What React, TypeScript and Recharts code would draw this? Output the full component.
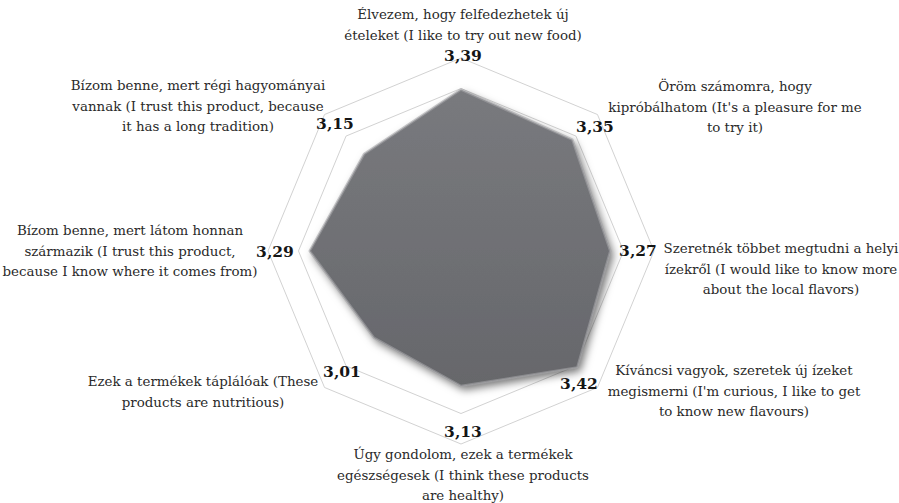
import React from "react";
import {
  PolarAngleAxis,
  PolarGrid,
  PolarRadiusAxis,
  Radar,
  RadarChart,
} from "recharts";

// statements, clockwise from the top
const categories: string[][] = [
  ["Élvezem, hogy felfedezhetek új", "ételeket  (I like to try out new food)"],
  ["Öröm számomra, hogy", "kipróbálhatom  (It's a pleasure for me", "to try it)"],
  ["Szeretnék többet megtudni a helyi", "ízekről (I would like to know more", "about the local flavors)"],
  ["Kíváncsi vagyok, szeretek új ízeket", "megismerni (I'm curious, I like to get", "to know new flavours)"],
  ["Úgy gondolom, ezek a termékek", "egészségesek (I think these products", "are healthy)"],
  ["Ezek a termékek táplálóak (These", "products are nutritious)"],
  ["Bízom benne, mert látom honnan", "származik (I trust this product,", "because I know where it comes from)"],
  ["Bízom benne, mert régi hagyományai", "vannak (I trust this product, because", "it has a long tradition)"],
];
const means = [3.39, 3.35, 3.27, 3.42, 3.13, 3.01, 3.29, 3.15];
const radiusDomain: [number, number] = [1.8, 3.7];
const gridRings = [3.4, 3.7];

const W = 899;
const H = 503;
const CX = 461;
const CY = 251;
const OUTER = 193;

// where each statement block and its value sit (first-line baseline)
const labelPos = [
  { x: 463, y: 19 },
  { x: 735, y: 91 },
  { x: 781, y: 253 },
  { x: 734, y: 375 },
  { x: 463, y: 459 },
  { x: 203, y: 386 },
  { x: 130, y: 235 },
  { x: 198, y: 90 },
];
const valuePos = [
  { x: 463, y: 61 },
  { x: 595, y: 132 },
  { x: 638, y: 256 },
  { x: 579, y: 389 },
  { x: 463, y: 437 },
  { x: 342, y: 377 },
  { x: 275, y: 257 },
  { x: 335, y: 129 },
];

const data = categories.map((lines, i) => ({
  name: lines.join(" "),
  value: means[i],
}));

const ringRadius = gridRings.map(
  (v) => (OUTER * (v - radiusDomain[0])) / (radiusDomain[1] - radiusDomain[0])
);

function StatementTick(props: any) {
  const i: number = props.index;
  const lines = categories[i];
  const lp = labelPos[i];
  const vp = valuePos[i];
  return (
    <g>
      <text
        x={lp.x}
        y={lp.y}
        textAnchor="middle"
        fill="#2a2a2a"
        fontFamily="'DejaVu Serif', serif"
        fontSize={13.4}
      >
        {lines.map((l, k) => (
          <tspan key={k} x={lp.x} dy={k === 0 ? 0 : 20.5}>
            {l}
          </tspan>
        ))}
      </text>
      <text
        x={vp.x}
        y={vp.y}
        textAnchor="middle"
        fill="#151515"
        fontFamily="'DejaVu Serif', serif"
        fontWeight="bold"
        fontSize={15.5}
      >
        {means[i].toFixed(2).replace(".", ",")}
      </text>
    </g>
  );
}

function BevelPolygon(props: any) {
  const pts: { x: number; y: number }[] = props.points || [];
  const d = pts.map((p) => `${p.x},${p.y}`).join(" ");
  return (
    <g>
      <defs>
        <linearGradient id="radarFill" x1="0" y1="0" x2="0" y2="1">
          <stop offset="0%" stopColor="#797a7e" />
          <stop offset="100%" stopColor="#66676b" />
        </linearGradient>
        <filter id="radarShadow" x="-20%" y="-20%" width="140%" height="140%">
          <feDropShadow dx="3" dy="4" stdDeviation="4" floodColor="#000" floodOpacity="0.55" />
        </filter>
      </defs>
      <polygon points={d} fill="url(#radarFill)" filter="url(#radarShadow)" />
      <polygon
        points={d}
        fill="none"
        stroke="#a3a4a7"
        strokeWidth={2.5}
        strokeOpacity={0.6}
        strokeLinejoin="bevel"
      />
    </g>
  );
}

export default function App() {
  return (
    <div style={{ position: "absolute", left: 0, top: 0, width: W, height: H, background: "#fff" }}>
      <RadarChart
        width={W}
        height={H}
        data={data}
        cx={CX}
        cy={CY}
        outerRadius={OUTER}
        startAngle={90}
        endAngle={-270}
        margin={{ top: 0, right: 0, bottom: 0, left: 0 }}
      >
        <PolarGrid
          gridType="polygon"
          radialLines={false}
          polarRadius={ringRadius}
          stroke="#d2d2d2"
          strokeWidth={1}
        />
        <PolarAngleAxis
          dataKey="name"
          axisLine={false}
          tickLine={false}
          tick={<StatementTick />}
        />
        <PolarRadiusAxis
          type="number"
          domain={radiusDomain}
          allowDataOverflow
          allowDecimals
          tickCount={20}
          tick={false}
          axisLine={false}
        />
        <Radar
          dataKey="value"
          isAnimationActive={false}
          shape={<BevelPolygon />}
        />
      </RadarChart>
    </div>
  );
}
